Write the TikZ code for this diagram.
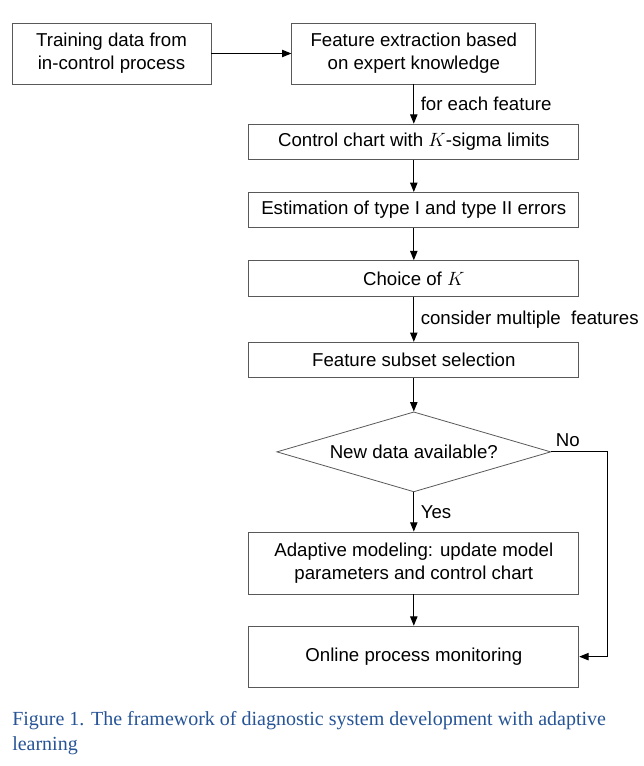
\documentclass[tikz,border=0pt]{standalone}
\usepackage{fontspec}
\setmainfont{Liberation Sans}
\newfontfamily\captionfont{Liberation Serif}
\usepackage{xcolor}
\usetikzlibrary{shapes,arrows.meta,positioning,calc}
\definecolor{capblue}{RGB}{38,84,150}

\begin{document}
\begin{tikzpicture}[auto, >={Triangle[length=7pt, width=5.5pt]}, x=0.75pt, y=-0.75pt]
        \tikzset{
            block/.style={draw=black!65, fill=white, rectangle, minimum height=26.6pt, minimum width=247.5pt, align=center, line width=0.6pt, font=\fontsize{14}{17.25}\selectfont},
            decision/.style={draw=black!65, fill=white, diamond, aspect=3.4, minimum width=205.5pt, minimum height=60pt, inner sep=0pt, line width=0.6pt, font=\fontsize{14}{17.25}\selectfont},
            flow/.style={->, line width=0.8pt},
            flowlabel/.style={font=\fontsize{14}{17.25}\selectfont, xshift=1.5pt},
        }
        \useasboundingbox (0,0) rectangle (643,766);

        % Training data
        \node [block, minimum width=149.25pt, minimum height=45.75pt] (train) at (111.5,53.5) {Training data from\\in-control process};

        % Feature extraction
        \node [block, minimum width=183pt, minimum height=45.75pt, right=60pt of train] (feat) {Feature extraction based\\on expert knowledge};

        % Control chart
        \node [block, below=29.5pt of feat] (chart) {Control chart with $K$-sigma limits};

        % Errors
        \node [block, below=24pt of chart] (errors) {Estimation of type I and type II errors};

        % Choice of K
        \node [block, below=24pt of errors] (choice) {Choice of $K$};

        % Subset selection
        \node [block, below=34pt of choice] (subset) {Feature subset selection};

        % New data?
        \node [decision, below=25pt of subset] (newdata) {New data available?};

        % Adaptive modeling
        \node [block, minimum height=46.5pt, below=29.5pt of newdata] (adapt) {Adaptive modeling: update model\\parameters and control chart};

        % Monitoring
        \node [block, minimum height=45.75pt, below=23.5pt of adapt] (monitor) {Online process monitoring};

        % No branch corner
        \coordinate [right=42pt of newdata.east] (noturn);

        % Connections
        \draw [flow] (train) -- (feat);
        \draw [flow] (feat) -- node [flowlabel, right] {for each feature} (chart);
        \draw [flow] (chart) -- (errors);
        \draw [flow] (errors) -- (choice);
        \draw [flow] (choice) -- node [flowlabel, right] {consider multiple\ \ features} (subset);
        \draw [flow] (subset) -- (newdata);
        \draw [flow] (newdata) -- node [flowlabel, right] {Yes} (adapt);
        \draw [flow] (adapt) -- (monitor);
        \draw [flow] (newdata.east) -- (noturn) |- (monitor.east);

        % Labels
        \node [anchor=south west, font=\fontsize{14}{17.25}\selectfont] (nolabel) at (newdata.east) {No};

        % Caption
        \node [anchor=north west, align=left, inner sep=0pt, text=capblue, font=\captionfont\fontsize{15}{18.75}\selectfont] (caption) at (12,711) {Figure 1. The framework of diagnostic system development with adaptive\\learning};
    \end{tikzpicture}
\end{document}
